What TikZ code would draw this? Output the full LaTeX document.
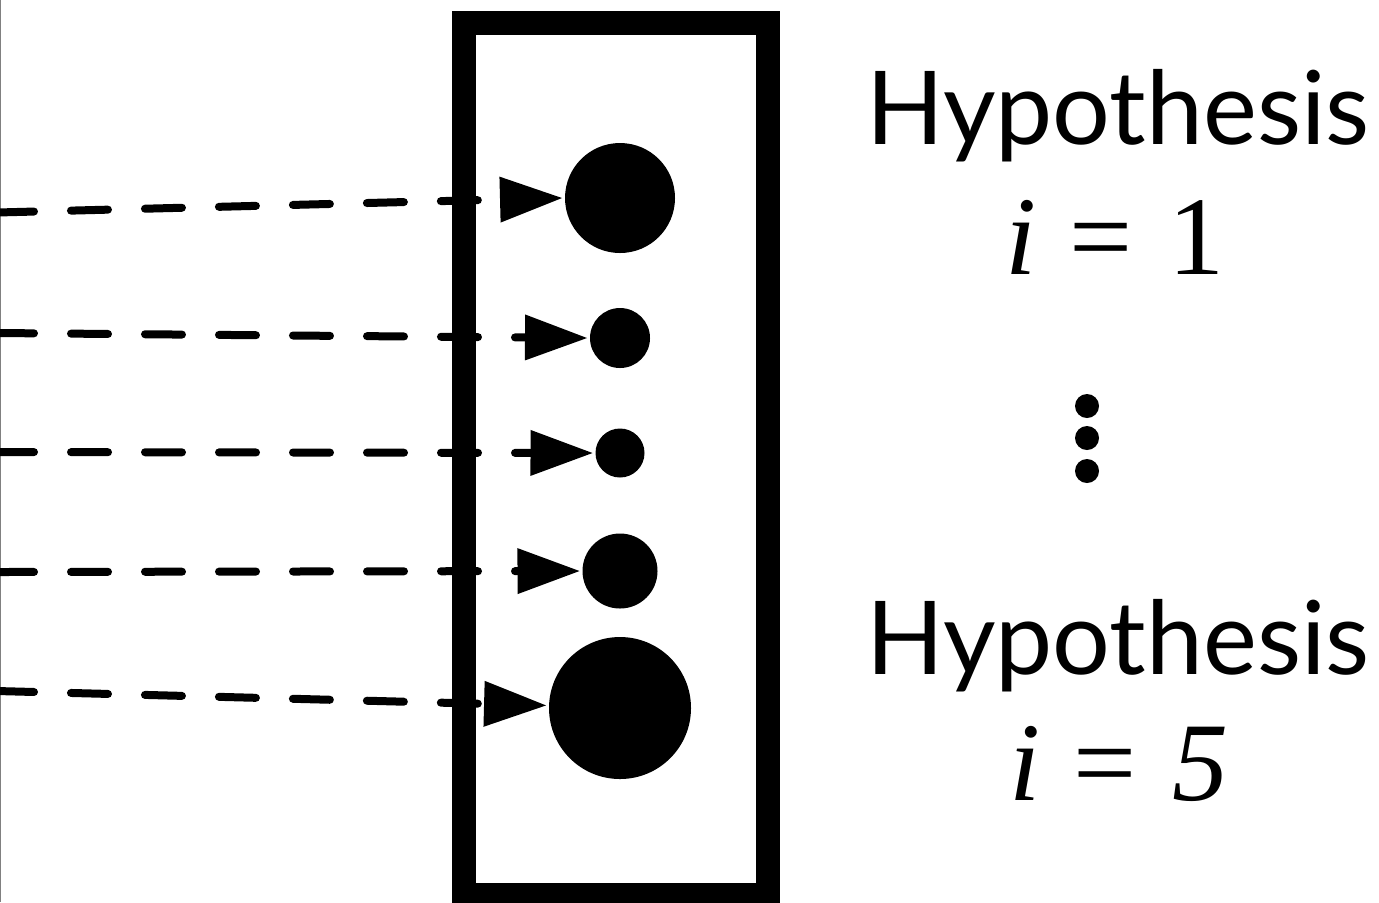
\documentclass[tikz,border=0pt]{standalone}
\usepackage{fontspec}
\setmainfont{Lato}
\newfontfamily\idxfont{Liberation Serif}
\newcommand\idxtext[1]{{\idxfont\fontsize{56}{60}\selectfont #1}}
\usetikzlibrary{arrows.meta,positioning,calc}

\begin{document}
\begin{tikzpicture}[x=0.5pt,y=-0.5pt,
  frame/.style={draw,line width=12pt,inner sep=0pt,minimum width=152pt,minimum height=436pt},
  hyp/.style={circle,fill,inner sep=0pt,outer sep=1.5pt},
  conn/.style={line width=4pt,line cap=round,dash pattern=on 18.5pt off 18.5pt,-{Triangle[length=31pt,width=23pt,line width=0pt]}},
  lbl/.style={anchor=base,inner sep=0pt,font=\fontsize{51}{60}\selectfont},
  idx/.style={anchor=base,inner sep=0pt},
  vdot/.style={circle,fill,inner sep=0pt,minimum size=12pt}]
\clip (0,0) rectangle (1379,902);
\draw[gray,line width=0.6pt] (0.6,0) -- (0.6,902);
\node[frame] (box) at (616,459) {};
% hypotheses, sized by weight
\node[hyp,minimum size=55pt] (h1) at (620,198) {};
\node[hyp,minimum size=30pt] (h2) at (620,338) {};
\node[hyp,minimum size=24.5pt] (h3) at (620,453) {};
\node[hyp,minimum size=37.5pt] (h4) at (620,571) {};
\node[hyp,minimum size=71pt] (h5) at (620,708) {};
\coordinate (s1) at (-3,212.5);
\coordinate (s2) at (-3,333);
\coordinate (s3) at (-3,452);
\coordinate (s4) at (-3,572);
\coordinate (s5) at (-3,691);
\path[conn]
(s1) edge (h1.west) (s2) edge (h2.west) (s3) edge (h3.west) (s4) edge (h4.west) (s5) edge (h5.178)
;
% labels
\node[lbl] (t1) at (1118,144) {Hypothesis};
\node[idx] (i1) at (1115,274) {\idxtext{\itshape i\/\hspace{0.3em}\upshape=\hspace{0.32em}1}};
\foreach \y [count=\k] in {406,438,471}
  \node[vdot] (v\k) at (1087,\y) {};
\node[lbl] (t5) at (1118,674) {Hypothesis};
\node[idx] (i5) at (1119,800) {\idxtext{\itshape i\/\hspace{0.3em}\upshape=\hspace{0.32em}\itshape 5}};
\end{tikzpicture}
\end{document}
